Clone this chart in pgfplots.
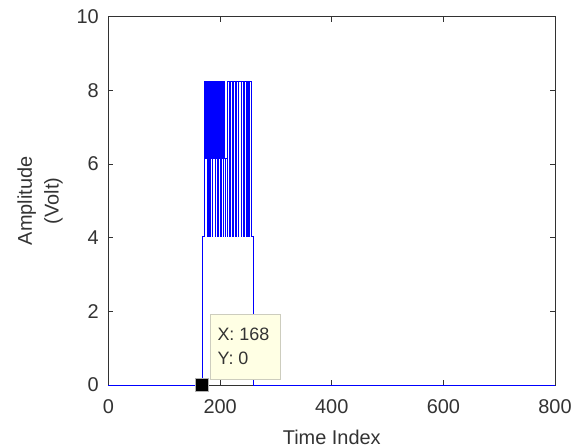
\documentclass[border=0pt]{standalone}
\usepackage{fontspec}
\setmainfont{Liberation Sans}
\usepackage{pgfplots}
\pgfplotsset{compat=1.18}
\definecolor{tipfill}{RGB}{255,255,228}
\definecolor{tipedge}{RGB}{205,205,190}
\definecolor{axcol}{RGB}{50,50,50}
\begin{document}
\begin{tikzpicture}
\useasboundingbox (-108.5bp,-63bp) rectangle (467.5bp,385bp);
\begin{axis}[
  at={(0,0)}, anchor=south west,
  scale only axis, width=446.5bp, height=368.3bp,
  xmin=0, xmax=800, ymin=0, ymax=10,
  xtick={0,200,400,600,800}, ytick={0,2,4,6,8,10},
  tick align=inside, major tick length=5bp,
  axis line style={axcol, line width=0.8bp},
  every tick/.style={axcol, line width=0.8bp},
  /pgf/number format/assume math mode=true,
  /pgf/number format/1000 sep={},
  tick label style={font=\fontsize{20}{24}\selectfont, text=black!80},
  xticklabel style={anchor=base, inner sep=0pt, yshift=-28bp},
  yticklabel style={anchor=east, inner sep=0pt, xshift=-9.5bp},
  xlabel={Time Index},
  ylabel={Amplitude\\(Volt)},
  label style={font=\fontsize{20}{27}\selectfont, text=black!80},
  xlabel style={at={(axis description cs:0.5,0)}, anchor=base, inner sep=0pt, yshift=-59bp},
  ylabel style={at={(axis description cs:-0.1019,0.5)}, anchor=south, inner sep=0pt, align=center},
  clip=false,
]
\addplot[const plot, color=blue, line width=0.45bp] coordinates {
(0,0) (168,4.05) (172,8.25)
(173,6.15) (174,8.25) (175,6.15) (176,8.25) (177,4.05)
(178,8.25) (179,6.15) (180,8.25) (181,4.05)
(182,8.25) (183,6.15) (184,8.25) (185,4.05)
(186,8.25) (187,6.15) (188,8.25) (189,6.15) (190,8.25) (191,4.05)
(192,8.25) (193,6.15) (194,8.25) (195,4.05)
(196,8.25) (197,6.15) (198,8.25) (199,6.15) (200,8.25) (201,4.05)
(202,8.25) (203,6.15) (204,8.25) (205,4.05)
(206,8.25) (207,6.15) (209,4.05) (210,6.15) (212,4.05)
(213,8.25) (217,4.05) (218,8.25) (222,4.05) (223,8.25) (227,4.05)
(228,8.25) (232,4.05) (233,8.25) (237,4.05) (238,8.25) (242,4.05)
(243,8.25) (247,4.05) (248,8.25) (251,4.05) (252,8.25) (255,4.05)
(258.5,0) (800,0)
};
\addplot[only marks, mark=square*, mark size=6.5bp, mark options={fill=black, draw=gray!60, line width=0.6bp}] coordinates {(168,0)};
\draw[draw=tipedge, fill=tipfill, line width=0.8bp] (axis cs:183.1,0.14) rectangle (axis cs:308.2,1.93);
\node[anchor=base west, inner sep=0pt, font=\fontsize{18}{22}\selectfont, text=black!80] at (axis cs:195,1.22) {X: 168};
\node[anchor=base west, inner sep=0pt, font=\fontsize{18}{22}\selectfont, text=black!80] at (axis cs:195,0.55) {Y: 0};
\end{axis}
\end{tikzpicture}
\end{document}
